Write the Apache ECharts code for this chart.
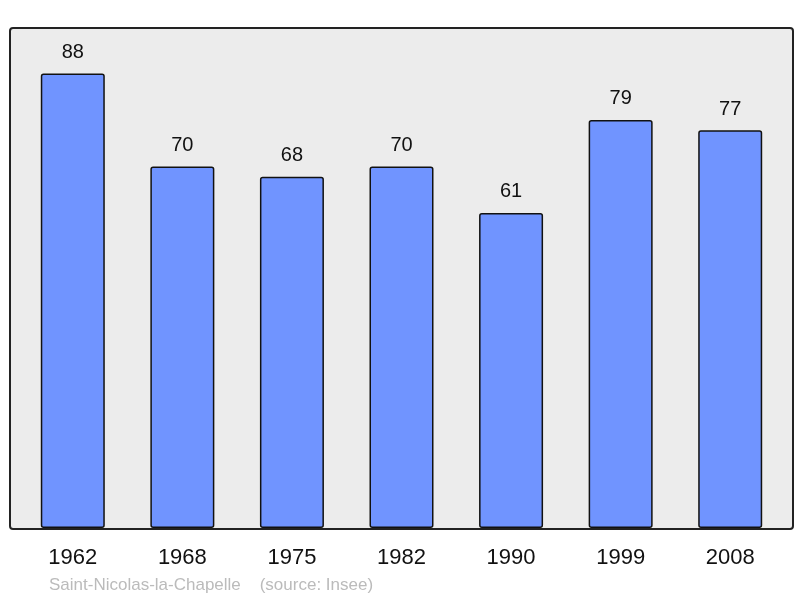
<!DOCTYPE html>
<html>
<head>
<meta charset="utf-8">
<script src="https://cdn.jsdelivr.net/npm/echarts@6/dist/echarts.min.js"></script>
<style>
  html, body { margin: 0; padding: 0; background: #fff; }
  #chart { width: 800px; height: 598px; }
</style>
</head>
<body>
<div id="chart"></div>
<script>
// années du recensement
var years = ['1962', '1968', '1975', '1982', '1990', '1999', '2008'];
// population
var population = [88, 70, 68, 70, 61, 79, 77];
var yMax = 97;

var myChart = echarts.init(document.getElementById('chart'));
var option = {
    animation: false,
    backgroundColor: '#ffffff',
    graphic: [
        {
            // fond gris du graphique
            type: 'rect',
            left: 9,
            top: 27,
            z: -10,
            shape: { width: 783, height: 501, r: 3 },
            style: { fill: '#ececec', stroke: '#222', lineWidth: 2 }
        },
        {
            type: 'text',
            left: 49,
            top: 577,
            style: {
                text: 'Saint-Nicolas-la-Chapelle    (source: Insee)',
                fill: '#bbbbbb',
                fontSize: 17,
                fontFamily: 'Liberation Sans'
            }
        }
    ],
    grid: {
        left: 18,
        right: 15,
        top: 27,
        bottom: 70
    },
    xAxis: {
        type: 'category',
        data: years,
        axisLine: { show: false },
        axisTick: { show: false },
        axisLabel: {
            color: '#111',
            fontSize: 22,
            fontFamily: 'Liberation Sans',
            margin: 19
        }
    },
    yAxis: {
        type: 'value',
        min: 0,
        max: yMax,
        show: false,
        splitLine: { show: false }
    },
    series: [
        {
            type: 'bar',
            data: population,
            barWidth: 64,
            itemStyle: {
                color: '#7094ff',
                borderColor: '#111',
                borderWidth: 1.5,
                borderRadius: 2
            },
            label: {
                show: true,
                position: 'top',
                distance: 11,
                color: '#111',
                fontSize: 20,
                fontFamily: 'Liberation Sans'
            }
        }
    ]
};
myChart.setOption(option);
</script>
</body>
</html>
